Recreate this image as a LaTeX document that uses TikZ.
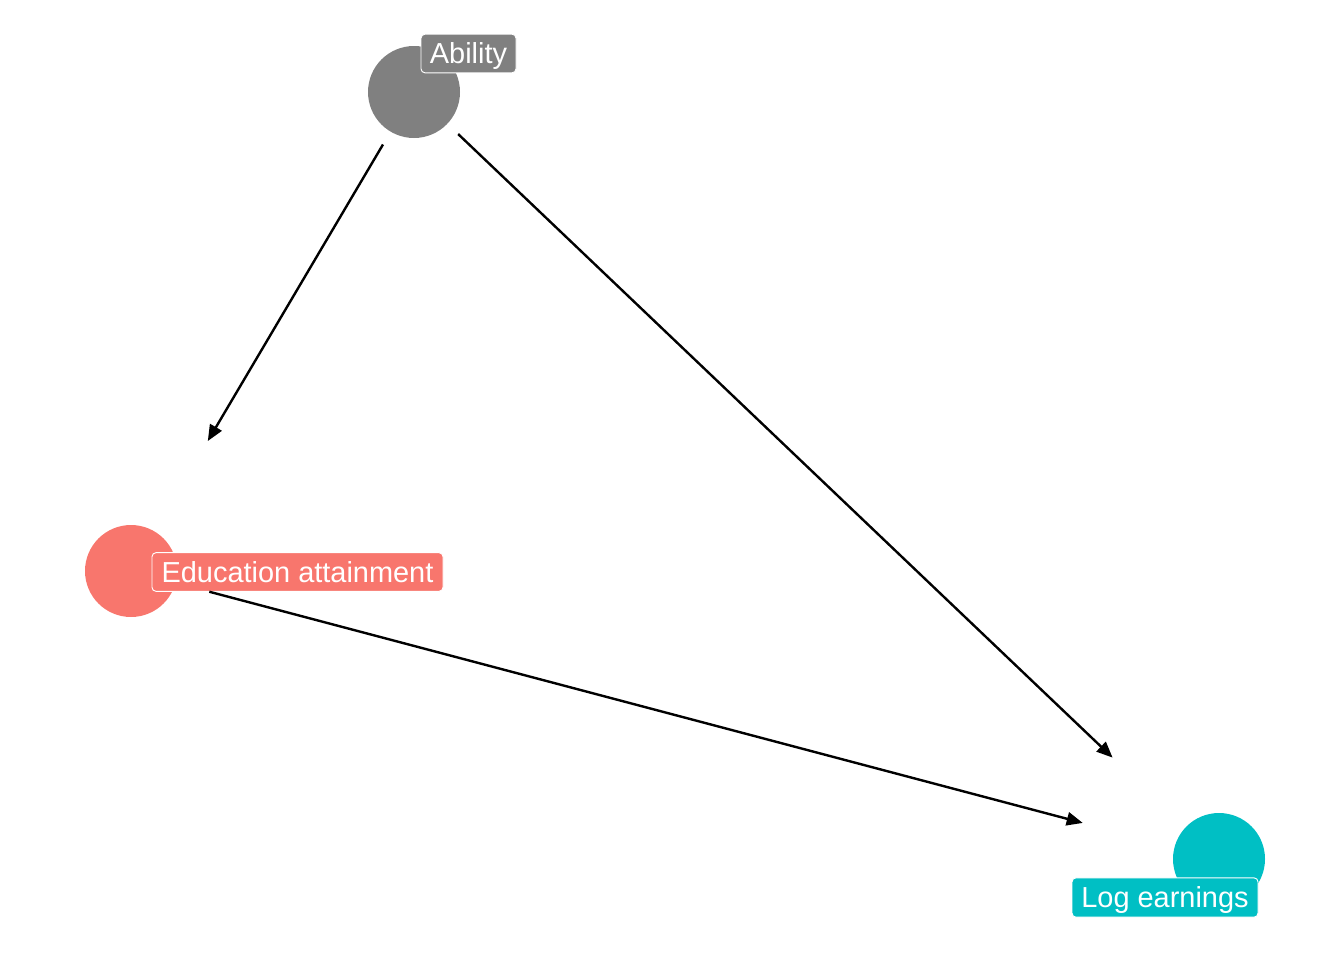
\documentclass[tikz,border=0pt]{standalone}
\usepackage{fontspec}
\setmainfont{Liberation Sans}
\usetikzlibrary{arrows.meta}
\definecolor{cgrey}{HTML}{808080}
\definecolor{csalmon}{HTML}{F8766D}
\definecolor{cteal}{HTML}{00BFC4}
\tikzset{
  dagnode/.style={circle, minimum size=69pt, inner sep=0pt, draw=none},
  daglabel/.style={rectangle, rounded corners=3pt, draw=white, line width=0.7pt, text=white,
    inner sep=0pt, text height=15.4pt, text depth=0pt, font=\fontsize{21.7}{24}\selectfont},
  dagedge/.style={line width=1.8pt, -{Triangle[length=12pt,width=10pt]}}
}
\begin{document}
\begin{tikzpicture}[x=0.75pt,y=-0.75pt]
\useasboundingbox (0,0) rectangle (1344,960);
\node[dagnode, fill=cgrey] (abi) at (414,92) {};
\node[dagnode, fill=csalmon] (edu) at (131,571) {};
\node[dagnode, fill=cteal] (loge) at (1219,859) {};
\node[daglabel, fill=cgrey, minimum width=71.25pt, minimum height=29pt] (labi) at (468.5,53.5) {Ability};
\node[daglabel, fill=csalmon, minimum width=218.25pt, minimum height=29pt] (ledu) at (297.5,572) {Education attainment};
\node[daglabel, fill=cteal, minimum width=139.5pt, minimum height=29.5pt] (lloge) at (1165,897.5) {Log earnings};
\draw[dagedge, shorten <=45.75pt, shorten >=113.25pt] (abi.center) -- (edu.center);
\draw[dagedge, shorten <=45.75pt, shorten >=110.25pt] (abi.center) -- (loge.center);
\draw[dagedge, shorten <=60.75pt, shorten >=105.75pt] (edu.center) -- (loge.center);
\end{tikzpicture}
\end{document}
